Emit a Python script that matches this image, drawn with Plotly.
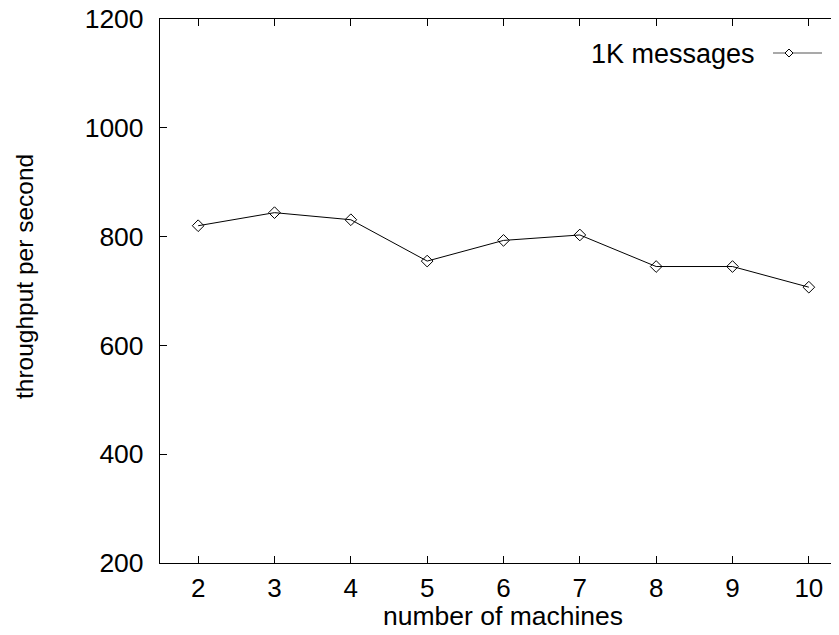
import plotly.graph_objects as go

machines = [2, 3, 4, 5, 6, 7, 8, 9, 10]
throughput = [820, 844, 831, 755, 793, 803, 745, 745, 707]
series_name = "1K messages"
x_ticks = [2, 3, 4, 5, 6, 7, 8, 9, 10]
y_ticks = [200, 400, 600, 800, 1000, 1200]

FONT = "Liberation Sans, Arial, Helvetica, sans-serif"

fig = go.Figure()
fig.add_trace(go.Scatter(
    x=machines, y=throughput, mode="lines+markers", name=series_name,
    line=dict(color="black", width=1),
    marker=dict(symbol="diamond-open", size=9, color="black", line=dict(width=1)),
    showlegend=False,
))

W, H = 839, 635
OFF = 8  # page body margin offset
L, R, T, B = 152, 0, 11, 80
pw = W - L - R
ph = H - T - B

def px(xs):
    return (xs - OFF - L) / pw

def py(ys):
    return 1 - (ys - OFF - T) / ph

fig.update_layout(
    width=W, height=H,
    margin=dict(l=L, r=R, t=T, b=B, autoexpand=False),
    paper_bgcolor="white", plot_bgcolor="white",
    font=dict(family=FONT, size=26, color="black"),
    xaxis=dict(
        range=[1.5, 10.5], tickvals=x_ticks, ticks="inside", ticklen=7,
        tickcolor="black", showline=True, linecolor="black", linewidth=1.2,
        mirror="ticks", showgrid=False, zeroline=False, automargin=False,
        tickfont=dict(size=26), ticklabelstandoff=2,
        ticklabeloverflow="allow",
    ),
    yaxis=dict(
        range=[200, 1200], tickvals=y_ticks, ticks="inside", ticklen=7,
        tickcolor="black", showline=True, linecolor="black", linewidth=1.2,
        mirror="ticks", showgrid=False, zeroline=False, automargin=False,
        tickfont=dict(size=26.5), ticklabelstandoff=10,
        ticklabeloverflow="allow",
    ),
)

# axis titles
fig.add_annotation(text="number of machines", xref="paper", yref="paper",
                   x=px(502.5), y=py(616), showarrow=False,
                   font=dict(size=26.5), xanchor="center", yanchor="middle")
fig.add_annotation(text="throughput per second", xref="paper", yref="paper",
                   x=px(24), y=py(277), showarrow=False, textangle=-90,
                   font=dict(size=24.5), xanchor="center", yanchor="middle")

# legend (text left of sample, gnuplot style)
fig.add_annotation(text=series_name, xref="paper", yref="paper",
                   x=px(757), y=py(54), showarrow=False,
                   font=dict(size=27), xanchor="right", yanchor="middle")
fig.add_shape(type="line", xref="paper", yref="paper",
              x0=px(773), x1=px(822), y0=py(53), y1=py(53),
              line=dict(color="#555555", width=1.2))
d = 4
fig.add_shape(type="path", xref="paper", yref="paper",
              path=f"M {px(789-d)} {py(53)} L {px(789)} {py(53-d)} L {px(789+d)} {py(53)} L {px(789)} {py(53+d)} Z",
              line=dict(color="black", width=1), fillcolor="white")

fig.write_html("out.html")
